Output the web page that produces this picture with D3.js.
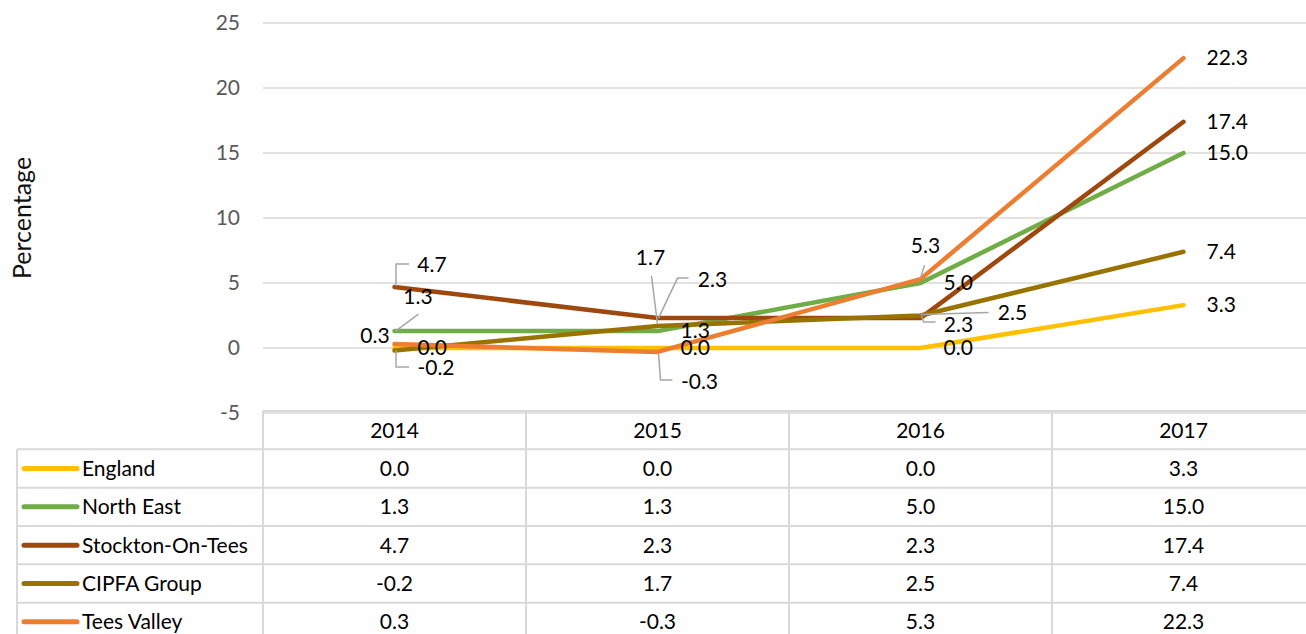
<!DOCTYPE html>
<html lang="en">
<head>
    <meta charset="UTF-8">
    <title>Percentage change chart</title>
    <script src="https://d3js.org/d3.v7.min.js"></script>
    <style>
        body { margin: 0; background: #fff; }
        svg { display: block; font-family: Lato, "Open Sans", sans-serif; }
    </style>
</head>
<body>
    <svg id="chart"></svg>
    <script>
        const years = ["2014", "2015", "2016", "2017"];
        const seriesNames = ["England", "North East", "Stockton-On-Tees", "CIPFA Group", "Tees Valley"];
        const england = [0.0, 0.0, 0.0, 3.3];
        const northEast = [1.3, 1.3, 5.0, 15.0];
        const stockton = [4.7, 2.3, 2.3, 17.4];
        const cipfa = [-0.2, 1.7, 2.5, 7.4];
        const teesValley = [0.3, -0.3, 5.3, 22.3];
        const yTicks = [-5, 0, 5, 10, 15, 20, 25];

        const colors = ["#FFC000", "#70AD47", "#9E480E", "#997300", "#ED7D31"];
        const values = [england, northEast, stockton, cipfa, teesValley];
        const series = seriesNames.map((name, i) => ({ name, values: values[i], color: colors[i] }));

        // label placement per series/year: "r" = right of point, else centre offset + optional leader
        const labelPlace = [
            ["r", "r", "r", "r"],
            [{ dx: 23.5, dy: -34, lead: [[1, 0], [24, -17]] }, "r", "r", "r"],
            [{ dx: 37.5, dy: -22, lead: [[1.5, -1], [1.5, -23], [14.5, -23]] },
             { dx: 55, dy: -38, lead: [[1, 0], [20, -40], [31, -40]] },
             { dx: 38, dy: 7, lead: [[1, -2], [3, 4], [15, 4]] }, "r"],
            [{ dx: 41.5, dy: 17.4, lead: [[1.5, 0], [1.5, 16.5], [14.5, 16.5]] },
             { dx: -7, dy: -68, lead: [[0, -2], [-6, -50]] },
             { dx: 92, dy: -2.5, lead: [[0, -1], [68, -3]] }, "r"],
            [{ dx: -19.5, dy: -8 },
             { dx: 42, dy: 30, lead: [[1, 1], [3, 28], [15, 28]] },
             { dx: 5, dy: -33, lead: [[0, -1], [4, -14]] }, "r"]
        ];

        const width = 1306, height = 634;
        const fs = 21;
        const svg = d3.select("#chart").attr("width", width).attr("height", height);

        const x = d3.scaleBand().domain(years).range([263, 1315]);
        const y = d3.scaleLinear().domain([-5, 25]).range([413, 23]);
        const cx = d => x(d) + x.bandwidth() / 2;
        const rows = d3.scaleBand().domain(["head", ...seriesNames]).range([411, 641]);

        // gridlines
        svg.append("g").selectAll("line").data(yTicks).join("line")
            .attr("x1", 263).attr("x2", width)
            .attr("y1", d => y(d)).attr("y2", d => y(d))
            .attr("stroke", "#d9d9d9").attr("stroke-width", 1.5);

        // y axis labels
        svg.append("g").selectAll("text").data(yTicks).join("text")
            .attr("x", 240).attr("y", d => y(d)).attr("dy", "0.35em")
            .attr("text-anchor", "end").attr("fill", "#595959").attr("font-size", fs)
            .text(d => d);

        svg.append("text")
            .attr("transform", `translate(31,${(y(25) + y(-5)) / 2}) rotate(-90)`)
            .attr("text-anchor", "middle").attr("font-size", 25).attr("fill", "#111")
            .text("Percentage");

        // lines
        const line = d3.line().x((d, i) => cx(years[i])).y(d => y(d));
        svg.append("g").selectAll("path").data(series).join("path")
            .attr("d", d => line(d.values))
            .attr("fill", "none").attr("stroke", d => d.color)
            .attr("stroke-width", 4.5).attr("stroke-linejoin", "round").attr("stroke-linecap", "round");

        // data labels
        const lab = svg.append("g").attr("font-size", fs).attr("fill", "#000");
        series.forEach((s, si) => {
            s.values.forEach((v, i) => {
                const px = cx(years[i]), py = y(v);
                const p = labelPlace[si][i];
                const txt = v.toFixed(1);
                if (p === "r") {
                    lab.append("text").attr("x", px + 23).attr("y", py).attr("dy", "0.35em")
                        .attr("text-anchor", "start").text(txt);
                } else {
                    if (p.lead) {
                        lab.append("path")
                            .attr("d", d3.line()(p.lead.map(q => [px + q[0], py + q[1]])))
                            .attr("fill", "none").attr("stroke", "#a6a6a6").attr("stroke-width", 1.5);
                    }
                    lab.append("text").attr("x", px + p.dx).attr("y", py + p.dy).attr("dy", "0.35em")
                        .attr("text-anchor", "middle").text(txt);
                }
            });
        });

        // data table
        const tbl = svg.append("g");
        const border = "#d9d9d9";
        const rh = rows.bandwidth();
        tbl.append("line").attr("x1", 263).attr("x2", width).attr("y1", rows("head")).attr("y2", rows("head"))
            .attr("stroke", border).attr("stroke-width", 2);
        tbl.selectAll("line.h").data(seriesNames).join("line").attr("class", "h")
            .attr("x1", 17).attr("x2", width).attr("y1", d => rows(d)).attr("y2", d => rows(d))
            .attr("stroke", border).attr("stroke-width", 2);
        tbl.append("line").attr("x1", 17).attr("x2", 17).attr("y1", rows(seriesNames[0])).attr("y2", height)
            .attr("stroke", border).attr("stroke-width", 2);
        tbl.selectAll("line.v").data(years).join("line").attr("class", "v")
            .attr("x1", d => x(d)).attr("x2", d => x(d)).attr("y1", rows("head")).attr("y2", height)
            .attr("stroke", border).attr("stroke-width", 2);

        tbl.selectAll("text.yr").data(years).join("text").attr("class", "yr")
            .attr("x", d => cx(d)).attr("y", rows("head") + rh / 2).attr("dy", "0.35em")
            .attr("text-anchor", "middle").attr("font-size", fs).text(d => d);

        series.forEach(s => {
            const ry = rows(s.name) + rh / 2;
            tbl.append("line").attr("x1", 24).attr("x2", 77).attr("y1", ry).attr("y2", ry)
                .attr("stroke", s.color).attr("stroke-width", 5).attr("stroke-linecap", "round");
            tbl.append("text").attr("x", 82).attr("y", ry).attr("dy", "0.35em")
                .attr("font-size", fs).text(s.name);
            s.values.forEach((v, i) => {
                tbl.append("text").attr("x", cx(years[i])).attr("y", ry).attr("dy", "0.35em")
                    .attr("text-anchor", "middle").attr("font-size", fs).text(v.toFixed(1));
            });
        });
    </script>
</body>
</html>
